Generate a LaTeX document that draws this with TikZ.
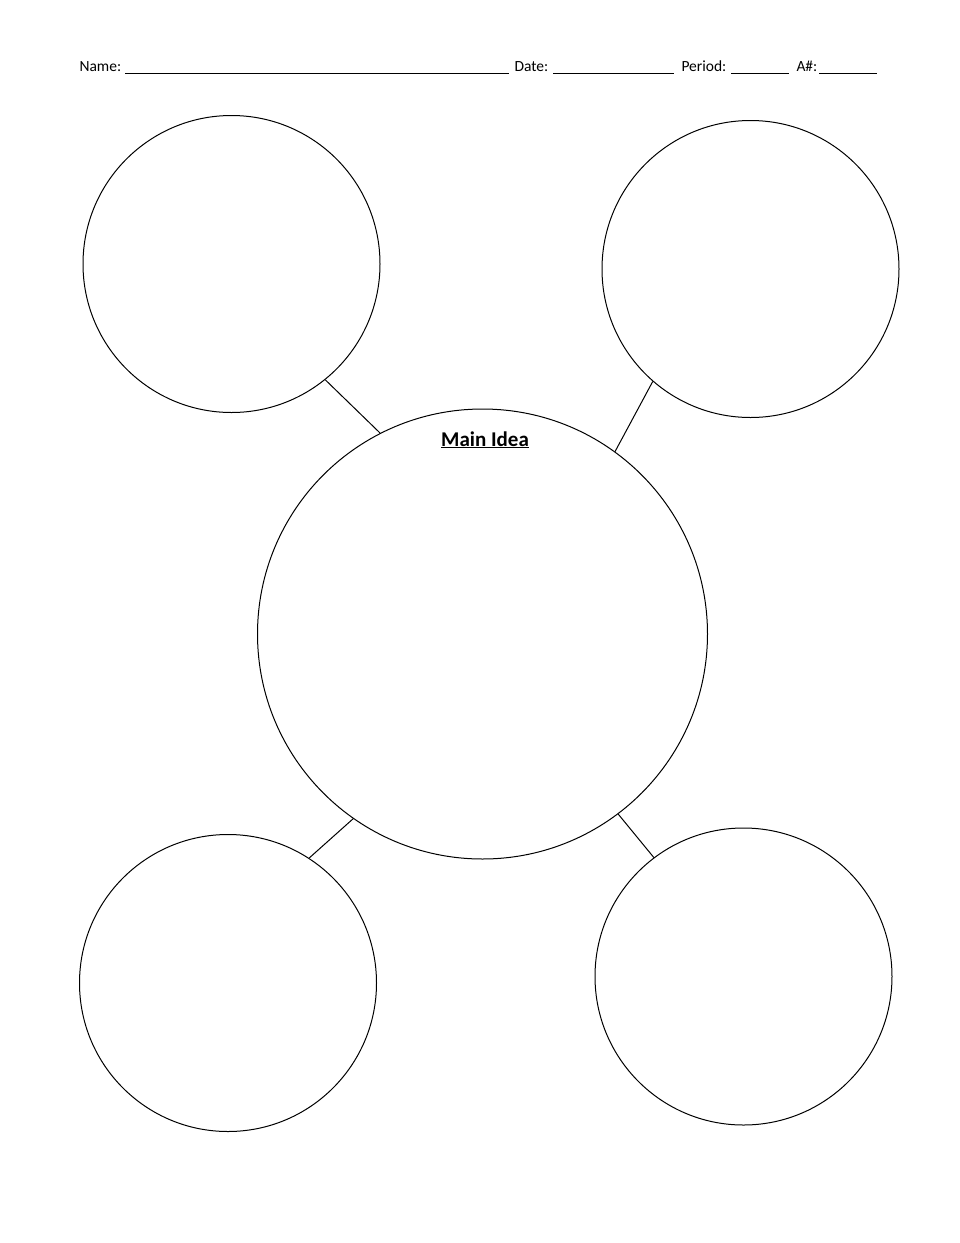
\documentclass[tikz,border=0pt]{standalone}
\usepackage{fontspec}
\setmainfont{Carlito}
\begin{document}
\begin{tikzpicture}[x=1pt,y=-1pt,line width=1pt,
  bubble/.style={circle,draw,inner sep=0pt,minimum size=297pt},
  bigbubble/.style={circle,draw,inner sep=0pt,minimum size=450pt},
  blank/.style={line width=0.8pt}]
 \useasboundingbox (0,0) rectangle (960,1243);
 % header
 \node[anchor=base west,inner sep=0pt,font=\fontsize{15.5}{18}\selectfont] (name) at (79,71) {Name:};
 \node[anchor=base west,inner sep=0pt,font=\fontsize{15.5}{18}\selectfont] (date) at (514,71) {Date:};
 \node[anchor=base west,inner sep=0pt,font=\fontsize{15.5}{18}\selectfont] (period) at (681,71) {Period:};
 \node[anchor=base west,inner sep=0pt,font=\fontsize{15.5}{18}\selectfont] (anum) at (796,71) {A\#:};
 \draw[blank] (125,73) -- (509,73);
 \draw[blank] (553,73) -- (674,73);
 \draw[blank] (731,73) -- (789,73);
 \draw[blank] (819,73) -- (877,73);
 % circles
 \node[bigbubble] (main) at (482.5,634) {};
 \node[bubble] (tl) at (231.5,264) {};
 \node[bubble] (tr) at (750.5,269) {};
 \node[bubble] (bl) at (228,983) {};
 \node[bubble] (br) at (743.5,976.5) {};
 \node[anchor=base,inner sep=0pt,font=\fontsize{21}{25}\bfseries] (title) at (485,446) {\underline{Main Idea}};
 % connectors
 \draw (tl.-51.8) -- (main.117.7);
 \draw (tr.-131.3) -- (main.54.2);
 \draw (bl.57.7) -- (main.-125.3);
 \draw (br.127.6) -- (main.-53.4);
\end{tikzpicture}
\end{document}
